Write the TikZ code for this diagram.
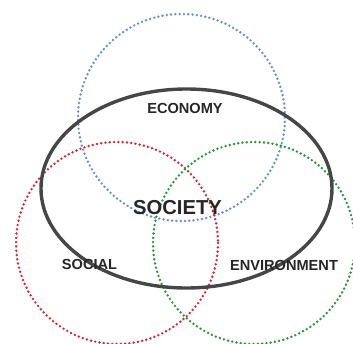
\documentclass[tikz,border=0pt]{standalone}
\usepackage{fontspec}
\setmainfont{Liberation Sans}
\usetikzlibrary{positioning}

\definecolor{econblue}{RGB}{105,145,205}
\definecolor{socred}{RGB}{210,40,55}
\definecolor{envgreen}{RGB}{40,150,50}
\definecolor{socgray}{RGB}{70,70,70}

\tikzset{
  dotring/.style={line width=2.7pt, line cap=round, dash pattern=on 0pt off 4.3pt},
  label/.style={font=\bfseries\fontsize{14.6}{15}\selectfont, text=black!85, inner sep=0pt}
}

\begin{document}
\begin{tikzpicture}[x=1pt, y=-1pt, line cap=round, line join=round]
			\useasboundingbox[fill=white] (0,0) rectangle (353,343);
			% circles
			\draw [dotring, econblue] (181.5,117.5) circle (103.5);
			\draw [dotring, socred] (117,243) circle (101);
			\draw [dotring, envgreen] (254,243) circle (101);
			% society
			\draw [socgray, line width=3.4pt] (186.5,188.5) ellipse (145.5 and 99.5);
			% labels
			\node[label] (economy) at (185,108) {ECONOMY};
			\node[label] (social) at (89.5,264) {SOCIAL};
			\node[label] (environment) at (284,265) {ENVIRONMENT};
			\node[label, font=\bfseries\fontsize{20.2}{21}\selectfont] (society) at (177.5,208) {SOCIETY};
		\end{tikzpicture}
\end{document}
